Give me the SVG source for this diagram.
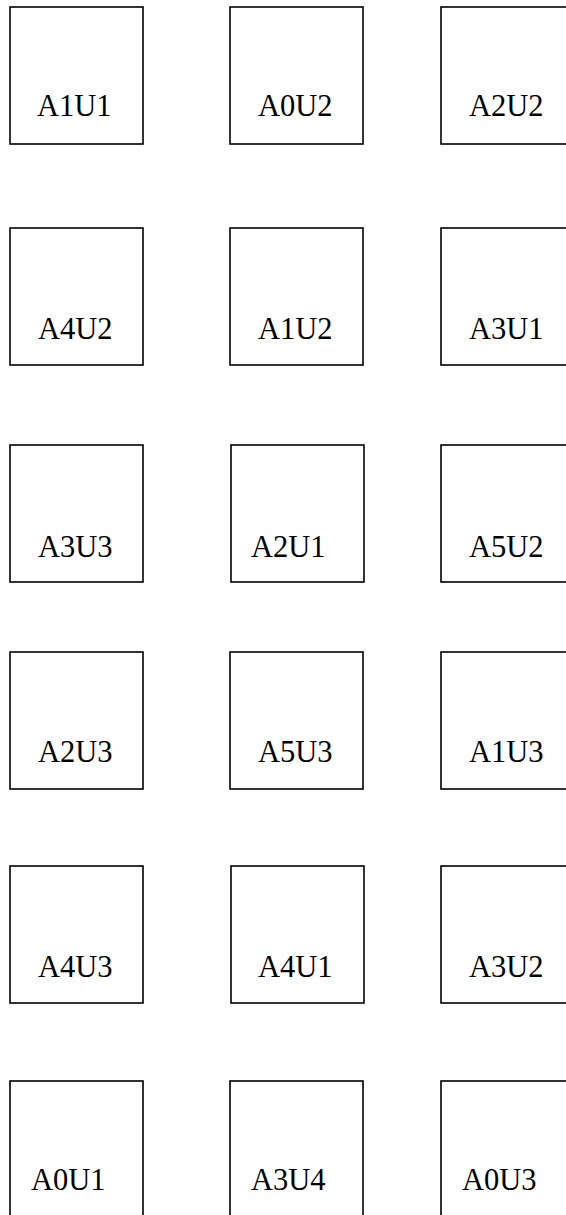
<svg xmlns="http://www.w3.org/2000/svg" width="566" height="1215" viewBox="0 0 566 1215">
<style>
.box{fill:#fff;stroke:#000;stroke-width:1.6}
.lbl{font-family:"Liberation Serif","Times New Roman",serif;font-size:30.5px;fill:#000}
</style>
<rect width="566" height="1215" fill="#fff"/>
<g id="connectors"></g>
<g id="A1U1"><rect class="box" x="10" y="7" width="133" height="137"/><text class="lbl" x="37" y="116">A1U1</text></g>
<g id="A0U2"><rect class="box" x="230" y="7" width="133" height="137"/><text class="lbl" x="258" y="116">A0U2</text></g>
<g id="A2U2"><rect class="box" x="441" y="7" width="133" height="137"/><text class="lbl" x="469" y="116">A2U2</text></g>
<g id="A4U2"><rect class="box" x="10" y="228" width="133" height="137"/><text class="lbl" x="38" y="339">A4U2</text></g>
<g id="A1U2"><rect class="box" x="230" y="228" width="133" height="137"/><text class="lbl" x="258" y="339">A1U2</text></g>
<g id="A3U1"><rect class="box" x="441" y="228" width="133" height="137"/><text class="lbl" x="469" y="339">A3U1</text></g>
<g id="A3U3"><rect class="box" x="10" y="445" width="133" height="137"/><text class="lbl" x="38" y="557">A3U3</text></g>
<g id="A2U1"><rect class="box" x="231" y="445" width="133" height="137"/><text class="lbl" x="251" y="557">A2U1</text></g>
<g id="A5U2"><rect class="box" x="441" y="445" width="133" height="137"/><text class="lbl" x="469" y="557">A5U2</text></g>
<g id="A2U3"><rect class="box" x="10" y="652" width="133" height="137"/><text class="lbl" x="38" y="762">A2U3</text></g>
<g id="A5U3"><rect class="box" x="230" y="652" width="133" height="137"/><text class="lbl" x="258" y="762">A5U3</text></g>
<g id="A1U3"><rect class="box" x="441" y="652" width="133" height="137"/><text class="lbl" x="469" y="762">A1U3</text></g>
<g id="A4U3"><rect class="box" x="10" y="866" width="133" height="137"/><text class="lbl" x="38" y="977">A4U3</text></g>
<g id="A4U1"><rect class="box" x="231" y="866" width="133" height="137"/><text class="lbl" x="258" y="977">A4U1</text></g>
<g id="A3U2"><rect class="box" x="441" y="866" width="133" height="137"/><text class="lbl" x="469" y="977">A3U2</text></g>
<g id="A0U1"><rect class="box" x="10" y="1081" width="133" height="137"/><text class="lbl" x="31" y="1190">A0U1</text></g>
<g id="A3U4"><rect class="box" x="230" y="1081" width="133" height="137"/><text class="lbl" x="251" y="1190">A3U4</text></g>
<g id="A0U3"><rect class="box" x="441" y="1081" width="133" height="137"/><text class="lbl" x="462" y="1190">A0U3</text></g>
</svg>
